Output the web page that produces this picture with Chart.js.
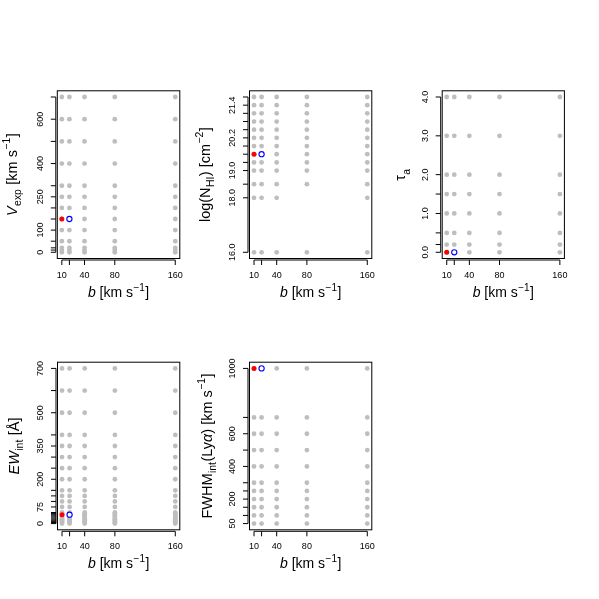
<!DOCTYPE html>
<html>
<head>
<meta charset="utf-8">
<script src="https://cdn.jsdelivr.net/npm/chart.js@4.4.1/dist/chart.umd.min.js"></script>
<style>
  html, body { margin:0; padding:0; background:#ffffff; }
  #wrap { position:relative; width:599px; height:599px; background:#fff; }
  canvas { position:absolute; left:0; top:0; }
</style>
</head>
<body>
<div id="wrap">
  <canvas id="c1" width="599" height="599"></canvas>
  <canvas id="c2" width="599" height="599"></canvas>
  <canvas id="c3" width="599" height="599"></canvas>
  <canvas id="c4" width="599" height="599"></canvas>
  <canvas id="c5" width="599" height="599"></canvas>
</div>
<script>
// ---------------- data ----------------
const bValues      = [10, 20, 40, 80, 160];
const bTickLabels  = ['10', '40', '80', '160'];

const vexpValues     = [0, 10, 20, 50, 100, 150, 200, 250, 300, 400, 500, 600, 700];
const vexpTickLabels = ['0', '100', '250', '400', '600'];

const nhiValues      = [16.0, 18.0, 18.5, 19.0, 19.3, 19.6, 19.9, 20.2, 20.5, 20.8, 21.1, 21.4, 21.7];
const nhiTickLabels  = ['16.0', '18.0', '19.0', '20.2', '21.4'];
const nhiMissing     = [[80, 18.0]];

const tauValues      = [0, 0.2, 0.5, 1.0, 1.5, 2.0, 3.0, 4.0];
const tauTickLabels  = ['0.0', '1.0', '2.0', '3.0', '4.0'];

const ewValues       = [0, 5, 10, 15, 20, 25, 30, 35, 40, 45, 50, 75, 100, 125, 150, 200, 250, 300, 350, 400, 500, 600, 700];
const ewTickLabels   = ['0', '75', '200', '350', '500', '700'];

const fwhmValues     = [50, 100, 150, 200, 250, 300, 400, 500, 600, 700, 1000];
const fwhmTickLabels = ['50', '200', '400', '600', '1000'];

// highlighted models (red = filled, blue = open)
const redModel  = { b: 10, vexp: 150, nhi: 19.6, tau: 0.0, ew: 40, fwhm: 1000 };
const blueModel = { b: 20, vexp: 150, nhi: 19.6, tau: 0.0, ew: 40, fwhm: 1000 };

// ---------------- helpers ----------------
const FONT = '"Liberation Sans", Arial, Helvetica, sans-serif';
const GREY = '#BEBEBE';

function gridPoints(xs, ys, missing) {
  const pts = [];
  xs.forEach(x => ys.forEach(y => {
    if (missing && missing.some(m => m[0] === x && m[1] === y)) return;
    pts.push({ x: x, y: y });
  }));
  return pts;
}

function drawRich(ctx, segs, x, y, rot, size) {
  ctx.save();
  ctx.translate(x, y);
  ctx.rotate(rot);
  ctx.textBaseline = 'alphabetic';
  ctx.textAlign = 'left';
  ctx.fillStyle = '#000';
  let total = 0;
  const parts = segs.map(s => {
    const sz = s.s ? size * 0.72 : size;
    const f = (s.i ? 'italic ' : '') + sz + 'px ' + FONT;
    ctx.font = f;
    const w = ctx.measureText(s.t).width + (s.s ? 0.8 : 0);
    total += w;
    return { s: s, f: f, w: w };
  });
  let cx = -total / 2;
  parts.forEach(p => {
    ctx.font = p.f;
    const dy = p.s.s === 'sub' ? size * 0.3 : (p.s.s === 'sup' ? -size * 0.45 : 0);
    ctx.fillText(p.s.t, cx + (p.s.s ? 0.4 : 0), dy);
    cx += p.w;
  });
  ctx.restore();
}

const xTitle = [{ t: 'b', i: true }, { t: ' [km s' }, { t: '\u22121', s: 'sup' }, { t: ']' }];

const panels = [
  { id: 'c1', area: { l: 57.3, r: 179.8, t: 90.8, b: 258.5 },
    yVals: vexpValues, yLabels: vexpTickLabels, yMin: -28, yMax: 728,
    pts: gridPoints(bValues, vexpValues), red: { x: redModel.b, y: redModel.vexp }, blue: { x: blueModel.b, y: blueModel.vexp },
    yTitle: [{ t: 'V', i: true }, { t: 'exp', s: 'sub' }, { t: ' [km s' }, { t: '\u22121', s: 'sup' }, { t: ']' }], yTitleOff: 40.8 },
  { id: 'c2', area: { l: 249.5, r: 371.8, t: 90.8, b: 258.5 },
    yVals: nhiValues, yLabels: nhiTickLabels, yMin: 15.772, yMax: 21.928,
    pts: gridPoints(bValues, nhiValues, nhiMissing), red: { x: redModel.b, y: redModel.nhi }, blue: { x: blueModel.b, y: blueModel.nhi },
    yTitle: [{ t: 'log(N' }, { t: 'HI', s: 'sub' }, { t: ') [cm' }, { t: '\u22122', s: 'sup' }, { t: ']' }], yTitleOff: 39.5 },
  { id: 'c3', area: { l: 442.2, r: 564.4, t: 90.8, b: 258.5 },
    yVals: tauValues, yLabels: tauTickLabels, yMin: -0.16, yMax: 4.16,
    pts: gridPoints(bValues, tauValues), red: { x: redModel.b, y: redModel.tau }, blue: { x: blueModel.b, y: blueModel.tau },
    yTitle: [{ t: '\u03C4' }, { t: 'a', s: 'sub' }], yTitleOff: 37 },
  { id: 'c4', area: { l: 57.5, r: 179.8, t: 362.2, b: 529.8 },
    yVals: ewValues, yLabels: ewTickLabels, yMin: -28, yMax: 728,
    pts: gridPoints(bValues, ewValues), red: { x: redModel.b, y: redModel.ew }, blue: { x: blueModel.b, y: blueModel.ew },
    yTitle: [{ t: 'EW', i: true }, { t: 'int', s: 'sub' }, { t: ' [\u00C5]' }], yTitleOff: 39 },
  { id: 'c5', area: { l: 249.5, r: 371.8, t: 362.2, b: 529.8 },
    yVals: fwhmValues, yLabels: fwhmTickLabels, yMin: 12, yMax: 1038,
    pts: gridPoints(bValues, fwhmValues), red: { x: redModel.b, y: redModel.fwhm }, blue: { x: blueModel.b, y: blueModel.fwhm },
    yTitle: [{ t: 'FWHM' }, { t: 'int', s: 'sub' }, { t: '(Ly' }, { t: '\u03B1', i: true }, { t: ') [km s' }, { t: '\u22121', s: 'sup' }, { t: ']' }], yTitleOff: 38 }
];

const rAxesPlugin = {
  id: 'rAxes',
  afterDraw(chart, args, opts) {
    const p = opts.panel;
    const ctx = chart.ctx;
    const ca = chart.chartArea;
    const xs = chart.scales.x, ys = chart.scales.y;
    ctx.save();
    // box
    ctx.strokeStyle = '#000';
    ctx.lineWidth = 1;
    ctx.strokeRect(ca.left, ca.top, ca.right - ca.left, ca.bottom - ca.top);

    const gap = 1.5, tl = 5;
    // y axis
    const ax = ca.left - gap;
    ctx.beginPath();
    ctx.moveTo(ax, ys.getPixelForValue(p.yVals[0]));
    ctx.lineTo(ax, ys.getPixelForValue(p.yVals[p.yVals.length - 1]));
    p.yVals.forEach(v => {
      const py = ys.getPixelForValue(v);
      ctx.moveTo(ax, py); ctx.lineTo(ax - tl, py);
    });
    ctx.stroke();
    ctx.fillStyle = '#000';
    ctx.font = '9px ' + FONT;
    p.yLabels.forEach(s => {
      const py = ys.getPixelForValue(parseFloat(s));
      ctx.save();
      ctx.translate(ca.left - 16.5, py);
      ctx.rotate(-Math.PI / 2);
      ctx.textAlign = 'center';
      ctx.textBaseline = 'middle';
      ctx.fillText(s, 0, 0);
      ctx.restore();
    });
    // x axis
    const ay = ca.bottom + gap;
    ctx.beginPath();
    ctx.moveTo(xs.getPixelForValue(bValues[0]), ay);
    ctx.lineTo(xs.getPixelForValue(bValues[bValues.length - 1]), ay);
    bValues.forEach(v => {
      const px = xs.getPixelForValue(v);
      ctx.moveTo(px, ay); ctx.lineTo(px, ay + tl);
    });
    ctx.stroke();
    ctx.textAlign = 'center';
    ctx.textBaseline = 'middle';
    bTickLabels.forEach(s => {
      ctx.fillText(s, xs.getPixelForValue(parseFloat(s)), ca.bottom + 16.8);
    });
    ctx.restore();
    // titles
    drawRich(ctx, xTitle, (ca.left + ca.right) / 2, ca.bottom + 38.5, 0, 14);
    drawRich(ctx, p.yTitle, ca.left - p.yTitleOff, (ca.top + ca.bottom) / 2, -Math.PI / 2, 14.5);
  }
};

panels.forEach(p => {
  const W = 599, H = 599;
  new Chart(document.getElementById(p.id), {
    type: 'scatter',
    data: {
      datasets: [
        { label: 'red', data: [p.red], pointRadius: 2.5, pointBackgroundColor: '#FF0000', pointBorderWidth: 0, order: 1 },
        { label: 'blue', data: [p.blue], pointRadius: 2.6, pointBackgroundColor: '#FFFFFF', pointBorderColor: '#0000FF', pointBorderWidth: 1.1, order: 2 },
        { label: 'grid', data: p.pts, pointRadius: 2.4, pointBackgroundColor: GREY, pointBorderWidth: 0, order: 3 }
      ]
    },
    options: {
      responsive: false,
      animation: false,
      devicePixelRatio: 1,
      events: [],
      clip: false,
      layout: { padding: { left: p.area.l, right: W - p.area.r, top: p.area.t, bottom: H - p.area.b } },
      plugins: { legend: { display: false }, tooltip: { enabled: false }, rAxes: { panel: p } },
      scales: {
        x: { type: 'linear', min: 4, max: 166, display: false },
        y: { type: 'linear', min: p.yMin, max: p.yMax, display: false }
      }
    },
    plugins: [rAxesPlugin]
  });
});
</script>
</body>
</html>
